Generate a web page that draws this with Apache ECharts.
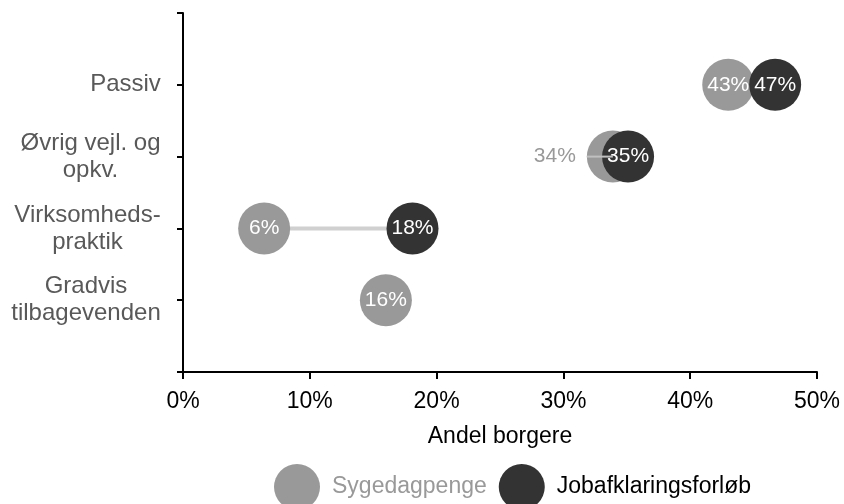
<!DOCTYPE html>
<html>
<head>
<meta charset="utf-8">
<script src="https://cdn.jsdelivr.net/npm/echarts@6/dist/echarts.min.js"></script>
<style>
  html, body { margin: 0; padding: 0; background: #fff; }
  #chart { width: 844px; height: 504px; }
</style>
</head>
<body>
<div id="chart"></div>
<script>
// categories sit on y = 1..4 (bottom to top)
const categories = ['Gradvis\ntilbagevenden', 'Virksomheds-\npraktik', 'Øvrig vejl. og\nopkv.', 'Passiv'];
const sygedagpenge = [16.0, 6.4, 33.9, 43.0];
const jobafklaring = [null, 18.1, 35.1, 46.7];
const seriesNames = ['Sygedagpenge', 'Jobafklaringsforløb'];

const FONT = '"Liberation Sans", Arial, sans-serif';
const GRAY = '#999999';
const DARK = '#333333';
const CAT_SIZE = 24;

const chart = echarts.init(document.getElementById('chart'));

function pct(v) {
  return Math.round(v) + '%';
}

// category labels: block right aligned on the axis, lines centred inside it
const measureCtx = document.createElement('canvas').getContext('2d');
measureCtx.font = CAT_SIZE + 'px ' + FONT;
const catRich = {};
categories.forEach((c, i) => {
  const w = Math.max(...c.split('\n').map(l => measureCtx.measureText(l).width));
  catRich['c' + i] = {
    width: Math.ceil(w),
    align: 'center',
    color: '#595959',
    fontSize: CAT_SIZE,
    fontFamily: FONT,
    lineHeight: 27
  };
});

function catLabel(v) {
  const i = v - 1;
  if (!categories[i]) return '';
  return categories[i].split('\n').map(l => '{c' + i + '|' + l + '}').join('\n');
}

// the grey label that Excel pushed out to the left with a leader line
const movedLabelIdx = 2;

const sickData = sygedagpenge.map((v, i) => {
  if (v === null) return null;
  const item = { value: [v, i + 1] };
  if (i === movedLabelIdx) {
    item.label = {
      position: 'left',
      distance: -26,
      color: GRAY,
      formatter: (p) => '{v|' + pct(p.value[0]) + '}{s|}{l|}',
      rich: {
        v: { color: GRAY, fontSize: 21, fontFamily: FONT, verticalAlign: 'middle' },
        s: { width: 11, height: 2, verticalAlign: 'middle' },
        l: { width: 26, height: 2, backgroundColor: '#c0c0c0', verticalAlign: 'middle' }
      }
    };
  }
  return item;
});

const jobData = jobafklaring.map((v, i) => v === null ? null : [v, i + 1]);

const connectors = [];
sygedagpenge.forEach((v, i) => {
  if (v !== null && jobafklaring[i] !== null) {
    connectors.push([i + 1, v, jobafklaring[i]]);
  }
});

const option = {
  animation: false,
  backgroundColor: '#fff',
  grid: { left: 183, right: 27, top: 13, bottom: 132 },
  xAxis: {
    type: 'value',
    min: 0,
    max: 50,
    interval: 10,
    name: 'Andel borgere',
    nameLocation: 'middle',
    nameGap: 53,
    nameTextStyle: { color: '#000', fontSize: 23, fontFamily: FONT },
    axisLine: { show: true, lineStyle: { color: '#000', width: 2 } },
    axisTick: { show: true, length: 7, lineStyle: { color: '#000', width: 2 } },
    axisLabel: {
      color: '#000',
      fontSize: 23,
      fontFamily: FONT,
      margin: 18,
      formatter: '{value}%'
    },
    splitLine: { show: false }
  },
  yAxis: {
    type: 'value',
    min: 0,
    max: 5,
    interval: 1,
    axisLine: { show: true, onZero: false, lineStyle: { color: '#000', width: 2 } },
    axisTick: { show: true, length: 6, lineStyle: { color: '#000', width: 2 } },
    axisLabel: {
      color: '#595959',
      fontSize: CAT_SIZE,
      fontFamily: FONT,
      lineHeight: 27,
      align: 'right',
      margin: 22,
      formatter: catLabel,
      rich: catRich
    },
    splitLine: { show: false }
  },
  legend: {
    left: 269,
    top: 459,
    icon: 'circle',
    itemWidth: 46,
    itemHeight: 46,
    itemGap: 12,
    textStyle: { fontSize: 23, fontFamily: FONT, padding: [0, 0, 0, 7] },
    data: [
      { name: seriesNames[0], textStyle: { color: GRAY } },
      { name: seriesNames[1], textStyle: { color: '#000' } }
    ]
  },
  series: [
    {
      type: 'custom',
      z: 1,
      silent: true,
      data: connectors,
      renderItem: (params, api) => {
        const y = api.value(0);
        const a = api.coord([api.value(1), y]);
        const b = api.coord([api.value(2), y]);
        return {
          type: 'line',
          shape: { x1: a[0], y1: a[1], x2: b[0], y2: b[1] },
          style: { stroke: '#d0d0d0', lineWidth: 4 }
        };
      }
    },
    {
      name: seriesNames[0],
      type: 'scatter',
      z: 2,
      symbol: 'circle',
      symbolSize: 52,
      itemStyle: { color: GRAY, opacity: 1 },
      label: {
        show: true,
        position: 'inside',
        color: '#fff',
        fontSize: 21,
        fontFamily: FONT,
        formatter: (p) => pct(p.value[0])
      },
      data: sickData
    },
    {
      name: seriesNames[1],
      type: 'scatter',
      z: 2,
      symbol: 'circle',
      symbolSize: 52,
      itemStyle: { color: DARK, opacity: 1 },
      label: {
        show: true,
        position: 'inside',
        color: '#fff',
        fontSize: 21,
        fontFamily: FONT,
        formatter: (p) => pct(p.value[0])
      },
      data: jobData
    }
  ]
};

chart.setOption(option);
</script>
</body>
</html>
